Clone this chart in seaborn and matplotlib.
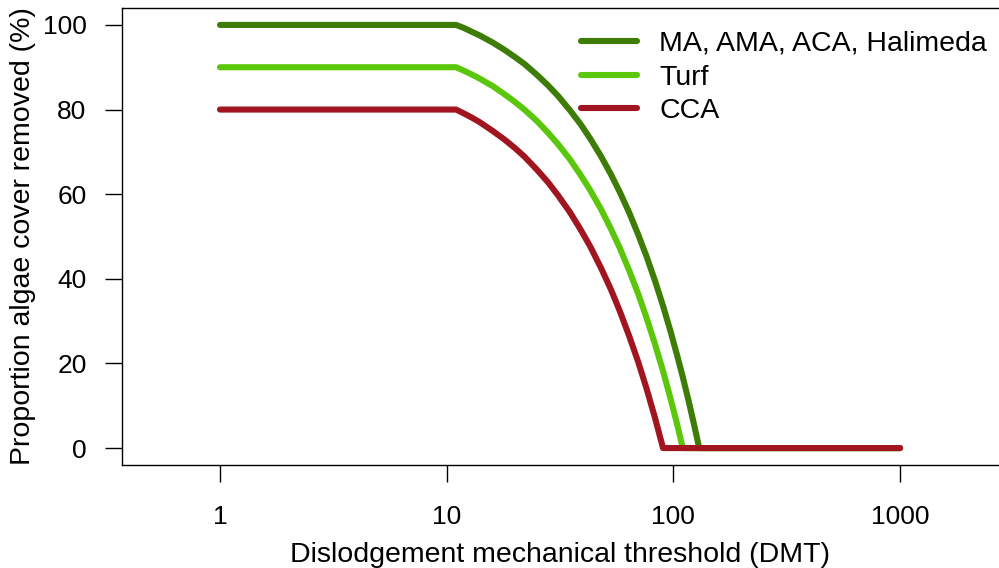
import matplotlib
matplotlib.use("Agg")
import matplotlib.pyplot as plt
import seaborn as sns
import pandas as pd

# Values
dmt = [1, 11, 12, 13, 14, 16, 18, 20, 22, 25, 28, 31, 35, 39, 43, 48, 53, 58, 64, 70,
       76, 83, 90, 97, 104, 110, 117, 124, 130, 1000]
ma_ama_aca_halimeda = [100, 100, 99.2, 98.3, 97.5, 95.8, 94.1, 92.4, 90.8, 88.2, 85.7, 83.2,
                       79.8, 76.5, 73.1, 68.9, 64.7, 60.5, 55.5, 50.4, 45.4, 39.5, 33.6, 27.7,
                       21.8, 16.8, 10.9, 5.0, 0, 0]
turf = [90, 90, 89.1, 88.2, 87.3, 85.5, 83.6, 81.8, 80.0, 77.3, 74.5, 71.8, 68.2, 64.5, 60.9,
        56.4, 51.8, 47.3, 41.8, 36.4, 30.9, 24.5, 18.2, 11.8, 5.5, 0, 0, 0, 0, 0]
cca = [80, 80, 79.0, 78.0, 77.0, 74.9, 72.9, 70.9, 68.9, 65.8, 62.8, 59.7, 55.7, 51.6, 47.6,
       42.5, 37.5, 32.4, 26.3, 20.3, 14.2, 7.1, 0, 0, 0, 0, 0, 0, 0, 0]
series_names = ["MA, AMA, ACA, Halimeda", "Turf", "CCA"]
series_colors = ["#3d7d05", "#5bc70a", "#a0151f"]
x_ticks = [1, 10, 100, 1000]
x_tick_labels = ["1", "10", "100", "1000"]
y_ticks = [0, 20, 40, 60, 80, 100]

frames = []
for name, vals in zip(series_names, [ma_ama_aca_halimeda, turf, cca]):
    frames.append(pd.DataFrame({"DMT": dmt, "removed": vals, "group": name}))
df = pd.concat(frames, ignore_index=True)

sns.set_style("ticks")
plt.rcParams["font.family"] = ["Liberation Sans", "DejaVu Sans"]
plt.rcParams["text.color"] = "black"
plt.rcParams["axes.labelcolor"] = "black"

fig = plt.figure(figsize=(9.99, 5.68), dpi=100)
W, H = 999, 568
left, right, top, bottom = 122, 999, 8, 465
ax = fig.add_axes([left / W, 1 - bottom / H, (right - left) / W, (bottom - top) / H])

sns.lineplot(data=df, x="DMT", y="removed", hue="group", hue_order=series_names,
             palette=dict(zip(series_names, series_colors)), estimator=None,
             linewidth=4.4, ax=ax, legend=True,
             solid_capstyle="round", solid_joinstyle="round")

ax.set_xscale("log")
ax.set_xlim(10 ** ((left - 220) / 226.7), 10 ** ((right - 220) / 226.7))
ax.set_ylim(-4, 104)
ax.set_xticks(x_ticks)
ax.set_xticklabels(x_tick_labels)
ax.minorticks_off()
ax.set_yticks(y_ticks)
ax.set_yticklabels([str(v) for v in y_ticks])

for s in ["left", "bottom", "top"]:
    ax.spines[s].set_visible(True)
    ax.spines[s].set_linewidth(1.0)
    ax.spines[s].set_color("black")
ax.spines["right"].set_visible(False)

ax.tick_params(axis="both", direction="out", length=12.5, width=1.0, color="black",
               labelsize=19, labelcolor="black")
ax.tick_params(axis="x", pad=16)
ax.tick_params(axis="y", pad=13)

ax.set_xlabel("Dislodgement mechanical threshold (DMT)", fontsize=20.5, labelpad=10,
              color="black")
ax.set_ylabel("Proportion algae cover removed (%)", fontsize=20.5, labelpad=5,
              color="black")

leg = ax.legend(loc="upper left", bbox_to_anchor=(581 / W, 1 - 31 / H),
                bbox_transform=fig.transFigure, frameon=False, fontsize=20.5,
                handlelength=1.95, handletextpad=0.8, labelspacing=0.27,
                borderpad=0, borderaxespad=0, title=None)
for h in leg.get_lines():
    h.set_linewidth(4.4)
    h.set_solid_capstyle("round")
for t in leg.get_texts():
    t.set_color("black")

fig.savefig("out.png", dpi=100)
